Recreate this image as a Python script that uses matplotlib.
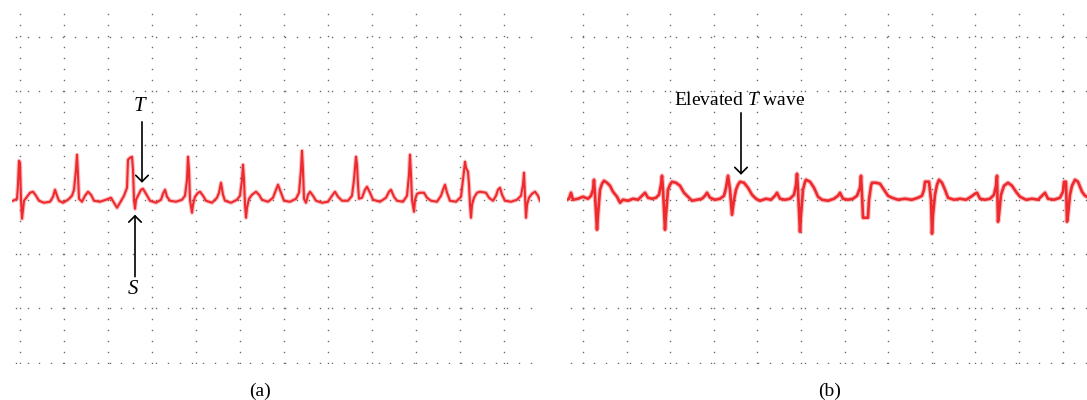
import numpy as np
import matplotlib
matplotlib.use("Agg")
import matplotlib.pyplot as plt

plt.rcParams['font.family'] = ['Liberation Serif', 'DejaVu Serif']
plt.rcParams['mathtext.fontset'] = 'custom'
plt.rcParams['mathtext.rm'] = 'Liberation Serif'
plt.rcParams['mathtext.it'] = 'Liberation Serif:italic'

# trace (a): sample index, amplitude above baseline
t_a = [-7, -5, -3, -2, -1, 0, 1, 2, 3, 4, 7, 10, 13, 16, 19, 24, 30, 33, 35, 37, 39, 43, 48,
       52, 54, 56, 57, 58, 59, 62, 65, 68, 71, 74, 80, 86, 91, 94, 97, 100, 104, 107, 108,
       110, 112, 113, 114, 115, 116, 118, 121, 123, 126, 130, 136, 141, 143, 145, 147, 150,
       156, 162, 165, 167, 168, 169, 170, 172, 173, 175, 178, 180, 183, 186, 192, 197, 199,
       201, 203, 205, 211, 217, 220, 222, 223, 224, 225, 226, 227, 229, 232, 236, 239, 242,
       248, 253, 256, 258, 261, 264, 270, 276, 279, 281, 282, 283, 284, 286, 288, 290, 293,
       296, 302, 308, 312, 315, 318, 322, 328, 332, 334, 336, 337, 338, 339, 342, 345, 347,
       350, 353, 360, 366, 369, 371, 374, 377, 383, 387, 389, 390, 391, 392, 394, 395, 397,
       400, 404, 407, 411, 417, 421, 423, 425, 427, 430, 436, 441, 443, 445, 446, 448, 449,
       450, 451, 452, 454, 457, 460, 466, 469, 473, 476, 478, 480, 482, 485, 491, 497, 501,
       503, 504, 505, 506, 507, 509, 512, 515, 518, 520]
v_a = [-1, 0, 1, 15, 39, 37, 0, -19, -10, -1, 3, 7, 8, 4, -1, -3, -2, 3, 10, 4, -1, -3, 0,
       4, 10, 30, 45, 25, 1, -2, 4, 8, 5, -1, -2, 0, 2, -3, -8, -3, 4, 12, 40,
       42, 43, 30, 0, -9, 0, 4, 10, 11, 6, -1, -3, 0, 6, 10, 3, -1,
       -2, 0, 4, 20, 43, 30, 0, -13, -5, 3, 7, 8, 4, -1, -3, 2, 7,
       17, 5, -1, -3, 0, 4, 20, 35, 20, -5, -18, -8, 1, 5, 8, 5, 0,
       -2, 2, 10, 15, 7, -1, -2, 1, 7, 30, 49, 30, 1, -3, 5, 8, 4,
       -1, -3, -2, 4, 8, 3, -1, -1, 4, 20, 43, 35, 15, 1, 2, 10, 13,
       7, 0, -2, 2, 8, 10, 3, -1, -2, 4, 25, 45, 25, 0, -12, 0, 6,
       7, 7, 2, -1, -2, 4, 10, 15, 7, -1, -2, 3, 20, 38, 32, 28, 15,
       -5, -18, -5, 2, 7, 8, 7, 2, -1, 4, 10, 12, 5, -1, -2, 0, 4,
       15, 27, 5, -18, -5, 2, 6, 8, 4, -1]

# trace (b)
t_b = [-16, -14, -12, -10, -5, 0, 5, 8, 10, 11, 12, 14, 15, 17, 19, 21, 24, 27, 30, 34, 37,
       40, 45, 50, 55, 59, 62, 65, 69, 73, 76, 78, 79, 80, 82, 83, 85, 87, 89, 93, 97, 101,
       105, 109, 114, 119, 122, 124, 127, 132, 137, 141, 143, 145, 147, 149, 151, 153, 155,
       157, 161, 165, 169, 173, 177, 183, 188, 192, 194, 197, 202, 207, 211, 213, 214, 215,
       217, 218, 220, 222, 223, 227, 231, 235, 239, 245, 251, 255, 257, 260, 265, 270, 274,
       277, 278, 279, 280, 283, 285, 286, 288, 289, 293, 297, 301, 305, 309, 315, 322, 329,
       335, 339, 341, 342, 346, 348, 349, 350, 352, 354, 356, 359, 362, 365, 371, 377, 383,
       388, 392, 394, 397, 402, 407, 411, 413, 414, 415, 416, 418, 421, 425, 429, 433, 437,
       443, 449, 455, 459, 462, 465, 471, 477, 480, 481, 483, 484, 485, 487, 489, 492, 495,
       499, 502, 504]
v_b = [0, 1, 7, 0, 1, 3, 1, 4, 10, 20, 5, -30, -15, 10, 16, 19, 17, 14, 8, 3, -3,
       0, -1, 1, 0, 4, 7, 2, 1, 2, 5, 15, 24, 10, -30, -15, 10, 15, 18, 17, 14, 7,
       3, -1, 0, 1, 4, 7, 2, 0, 1, 4, 12, 24, 10, -15, 0, 10, 15,
       18, 17, 12, 5, 1, -1, 1, 0, 4, 7, 1, 0, 1, 5, 15, 26, 10,
       -32, -15, 10, 18, 20, 18, 12, 3, 0, -1, 1, 4, 7, 1, 0, 1, 4,
       12, 24, 5, -18, -18, -18, 0, 14, 17, 17, 16, 10, 4, 2, 0, 1, 0,
       2, 4, 10, 18, 18, 0, -34, -15, 5, 15, 20, 17, 10, 2, 0, 1, 0,
       3, 6, 7, 1, 0, 1, 5, 14, 24, -22, -15, 5, 14, 17, 14, 8, 3,
       0, 1, 0, 4, 7, 1, 0, 2, 8, 18, 18, -22, -15, 5, 14, 20, 18,
       8, 4, 3]

W, H = 1087, 400
fig = plt.figure(figsize=(W / 100, H / 100), dpi=100)
ax1 = fig.add_axes([12 / W, 37 / H, 528 / W, 351 / H])
ax2 = fig.add_axes([567 / W, 37 / H, 520 / W, 351 / H])

red = '#ee2a2e'
dot = '#6a6a6a'

def paper(ax, xlim, step):
    ax.set_xlim(*xlim)
    ax.set_ylim(-163.5, 188)
    ax.axis('off')
    rows = np.arange(-163.3, 164, 54.43)
    cols = np.arange(0, xlim[1], step)
    ys = np.arange(-163.3, 188, 10.9)
    xs = np.arange(xlim[0] + 4, xlim[1], 11.7)
    for c in cols:
        ax.plot(np.full_like(ys, c), ys, ls='none', marker='s', ms=1.0, mew=0, color=dot)
    for r in rows:
        ax.plot(xs, np.full_like(xs, r), ls='none', marker='s', ms=1.0, mew=0, color=dot)

def trace(ax, t, v, lw):
    ax.plot(t, v, color=red, lw=lw + 1.6, alpha=0.3, solid_joinstyle='round')
    ax.plot(t, v, color=red, lw=lw, solid_joinstyle='round')

def arrow(ax, xy, xytext):
    ax.annotate('', xy=xy, xytext=xytext,
                arrowprops=dict(arrowstyle='->,head_length=0.45,head_width=0.45',
                                lw=1.2, color='black', shrinkA=0, shrinkB=0,
                                mutation_scale=10))

paper(ax1, (-8, 520), 44)
paper(ax2, (-16, 504), 43.6)
trace(ax1, t_a, v_a, 1.5)
trace(ax2, t_b, v_b, 1.9)

arrow(ax1, (122, 17), (122, 78))
ax1.text(119, 93, 'T', style='italic', fontsize=15, ha='center', va='center')
arrow(ax1, (115, -15), (115, -77))
ax1.text(113, -90, 'S', style='italic', fontsize=15, ha='center', va='center')

arrow(ax2, (158, 25), (158, 87))
ax2.text(157, 99, r'Elevated $T$ wave', fontsize=14, ha='center', va='center')

fig.text(260 / W, 1 - 391 / H, '(a)', fontsize=14, ha='center', va='center')
fig.text(830 / W, 1 - 391 / H, '(b)', fontsize=14, ha='center', va='center')

fig.savefig('out.png', dpi=100)
